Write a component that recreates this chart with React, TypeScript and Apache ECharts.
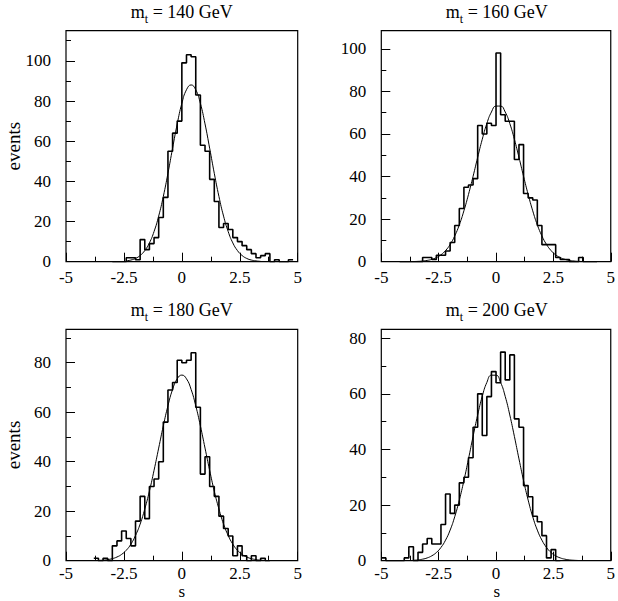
import React, { useEffect, useRef } from 'react';
import * as echarts from 'echarts';

// ---- data ----
const binWidth = 0.2;
const curveStep = 0.2;
const massLabels = ['140', '160', '180', '200'];

const histStarts = [-3.0, -4.2, -3.8, -5.0];
const hist140 = [0, 0, 0, 2, 2, 1, 11, 6, 9, 12, 22, 32, 55, 64, 70, 99, 103, 102, 83, 58, 55, 41, 30, 17, 19, 16, 12, 10, 8, 6, 4, 2, 3, 4, 0, 1, 0, 0, 1];
const hist160 = [0, 0, 0, 0, 0, 2, 2, 1, 3, 3, 5, 9, 17, 25, 35, 36, 39, 64, 60, 65, 64, 98, 69, 66, 66, 48, 55, 32, 30, 29, 17, 8, 8, 8, 2, 1, 1, 0, 0, 2, 0, 0, 0];
const hist180 = [1, 0, 1, 0, 6, 8, 12, 9, 6, 16, 26, 17, 30, 33, 40, 56, 69, 72, 81, 80, 81, 84, 62, 35, 42, 30, 26, 18, 13, 10, 2, 6, 2, 0, 2, 0, 1, 0];
const hist200 = [1, 0, 0, 0, 0, 1, 5, 0, 3, 6, 8, 6, 6, 13, 24, 17, 20, 28, 30, 37, 48, 60, 45, 59, 68, 64, 75, 65, 74, 51, 48, 27, 23, 16, 14, 9, 1, 4, 0];

const fitStarts = [-2.4, -3.6, -3.6, -3.6];
const fit140 = [0.39, 0.82, 1.63, 3.09, 5.53, 9.35, 15.0, 22.7, 32.5, 44.0, 56.5, 68.6, 78.8, 85.6, 88.0, 85.6, 78.8, 68.6, 56.5, 44.0, 32.5, 22.7, 15.0, 9.35, 5.53, 3.09, 1.63, 0.82, 0.39, 0.17];
const fit160 = [0.08, 0.16, 0.32, 0.6, 1.1, 1.92, 3.23, 5.22, 8.1, 12.1, 17.3, 23.9, 31.6, 40.1, 49.0, 57.5, 64.9, 70.3, 73.1, 73.1, 70.3, 64.9, 57.5, 49.0, 40.1, 31.6, 23.9, 17.3, 12.1, 8.1, 5.22, 3.23, 1.92, 1.1, 0.6, 0.32, 0.16, 0.08];
const fit180 = [0.12, 0.23, 0.45, 0.83, 1.49, 2.55, 4.21, 6.67, 10.2, 14.8, 20.9, 28.1, 36.5, 45.5, 54.5, 62.6, 69.2, 73.5, 75.0, 73.5, 69.2, 62.6, 54.5, 45.5, 36.5, 28.1, 20.9, 14.8, 10.2, 6.67, 4.21, 2.55, 1.49, 0.83, 0.45, 0.23, 0.12];
const fit200 = [0.15, 0.29, 0.55, 1.0, 1.75, 2.94, 4.76, 7.39, 11.0, 15.8, 21.8, 28.8, 36.6, 44.7, 52.4, 59.1, 64.1, 66.7, 66.7, 64.1, 59.1, 52.4, 44.7, 36.6, 28.8, 21.8, 15.8, 11.0, 7.39, 4.76, 2.94, 1.75, 1.0, 0.55, 0.29, 0.15, 0.07];

const yMaxes = [115, 108.5, 93.5, 83.2];
const xMin = -5;
const xMax = 5;
const xInterval = 2.5;
const yInterval = 20;
const yMinorInterval = 10;
const xAxisName = 's';
const yAxisName = 'events';

const hists = [hist140, hist160, hist180, hist200];
const fits = [fit140, fit160, fit180, fit200];

// ---- layout ----
const FONT = "'Liberation Serif', 'Times New Roman', serif";
const grids = [
  { left: 66, top: 30.7, width: 231.7, height: 231 },
  { left: 381.3, top: 30.7, width: 231, height: 231 },
  { left: 66, top: 329.3, width: 231.7, height: 231.4 },
  { left: 381.3, top: 329.3, width: 231, height: 231.4 },
];

function histData(start: number, counts: number[]) {
  const d: number[][] = counts.map((v, i) => [+(start + i * binWidth).toFixed(3), v]);
  d.push([+(start + counts.length * binWidth).toFixed(3), counts[counts.length - 1]]);
  return d;
}

function curveData(start: number, vals: number[]) {
  return vals.map((v, i) => [+(start + i * curveStep).toFixed(3), v]);
}

export default function App() {
  const ref = useRef<HTMLDivElement>(null);

  useEffect(() => {
    if (!ref.current) return;
    const chart = echarts.init(ref.current, undefined, { renderer: 'svg' });

    const xAxes: any[] = [];
    const yAxes: any[] = [];
    const series: any[] = [];
    const graphics: any[] = [];

    grids.forEach((g, i) => {
      xAxes.push({
        type: 'value',
        gridIndex: i,
        min: xMin,
        max: xMax,
        interval: xInterval,
        position: 'bottom',
        axisLine: { show: false, onZero: false },
        axisTick: { show: true, inside: true, length: 9, lineStyle: { color: '#000', width: 1 } },
        minorTick: { show: true, splitNumber: 2, length: 5, lineStyle: { color: '#000', width: 1 } },
        splitLine: { show: false },
        minorSplitLine: { show: false },
        axisLabel: { color: '#000', fontSize: 17, fontFamily: FONT, margin: i < 2 ? 7 : 4 },
      });
      yAxes.push({
        type: 'value',
        gridIndex: i,
        min: 0,
        max: yMaxes[i],
        interval: yInterval,
        position: 'left',
        axisLine: { show: false, onZero: false },
        axisTick: { show: true, inside: true, length: 9, lineStyle: { color: '#000', width: 1 } },
        splitLine: { show: false },
        axisLabel: {
          color: '#000',
          fontSize: 17,
          fontFamily: FONT,
          margin: 15,
          formatter: (v: number) => (Math.abs(v % yInterval) < 1e-9 ? String(v) : ''),
        },
      });
      yAxes.push({
        type: 'value',
        gridIndex: i,
        min: 0,
        max: yMaxes[i],
        interval: yMinorInterval,
        position: 'left',
        axisLine: { show: false, onZero: false },
        axisTick: { show: true, inside: true, length: 5, lineStyle: { color: '#000', width: 1 } },
        splitLine: { show: false },
        axisLabel: { show: false },
      });
      series.push({
        type: 'line',
        xAxisIndex: i,
        yAxisIndex: i * 2,
        data: histData(histStarts[i], hists[i]),
        step: 'end',
        symbol: 'none',
        lineStyle: { color: '#000', width: 1.6 },
        clip: true,
        z: 3,
      });
      series.push({
        type: 'line',
        xAxisIndex: i,
        yAxisIndex: i * 2,
        data: curveData(fitStarts[i], fits[i]),
        smooth: true,
        symbol: 'none',
        lineStyle: { color: '#000', width: 1 },
        clip: true,
        z: 4,
      });

      const cx = g.left + g.width / 2;
      const titleY = i < 2 ? 14 : 312;
      graphics.push({
        type: 'text',
        x: cx,
        y: titleY,
        style: {
          text: `{m|m}{t|t}{r| = ${massLabels[i]} GeV}`,
          align: 'center',
          verticalAlign: 'middle',
          fill: '#000',
          rich: {
            m: { fontSize: 18, fontFamily: FONT, fill: '#000', verticalAlign: 'bottom', padding: [0, 0, 4, 0] },
            t: { fontSize: 12, fontFamily: FONT, fill: '#000', verticalAlign: 'bottom' },
            r: { fontSize: 18, fontFamily: FONT, fill: '#000', verticalAlign: 'bottom', padding: [0, 0, 4, 0] },
          },
        },
      });
      if (i % 2 === 0) {
        graphics.push({
          type: 'text',
          x: 13.5,
          y: g.top + g.height / 2,
          rotation: Math.PI / 2,
          style: { text: yAxisName, fontSize: 19, fontFamily: FONT, fill: '#000', align: 'center', verticalAlign: 'middle' },
        });
      }
      if (i >= 2) {
        graphics.push({
          type: 'text',
          x: cx,
          y: 591,
          style: { text: xAxisName, fontSize: 17, fontFamily: FONT, fill: '#000', align: 'center', verticalAlign: 'middle' },
        });
      }
    });

    chart.setOption({
      animation: false,
      backgroundColor: '#fff',
      grid: grids.map((g) => ({ ...g, show: true, borderColor: '#000', borderWidth: 1.2, backgroundColor: 'transparent', containLabel: false })),
      xAxis: xAxes,
      yAxis: yAxes,
      series,
      graphic: graphics,
    });

    return () => chart.dispose();
  }, []);

  return <div ref={ref} style={{ position: 'fixed', left: 0, top: 0, width: 618, height: 601 }} />;
}
